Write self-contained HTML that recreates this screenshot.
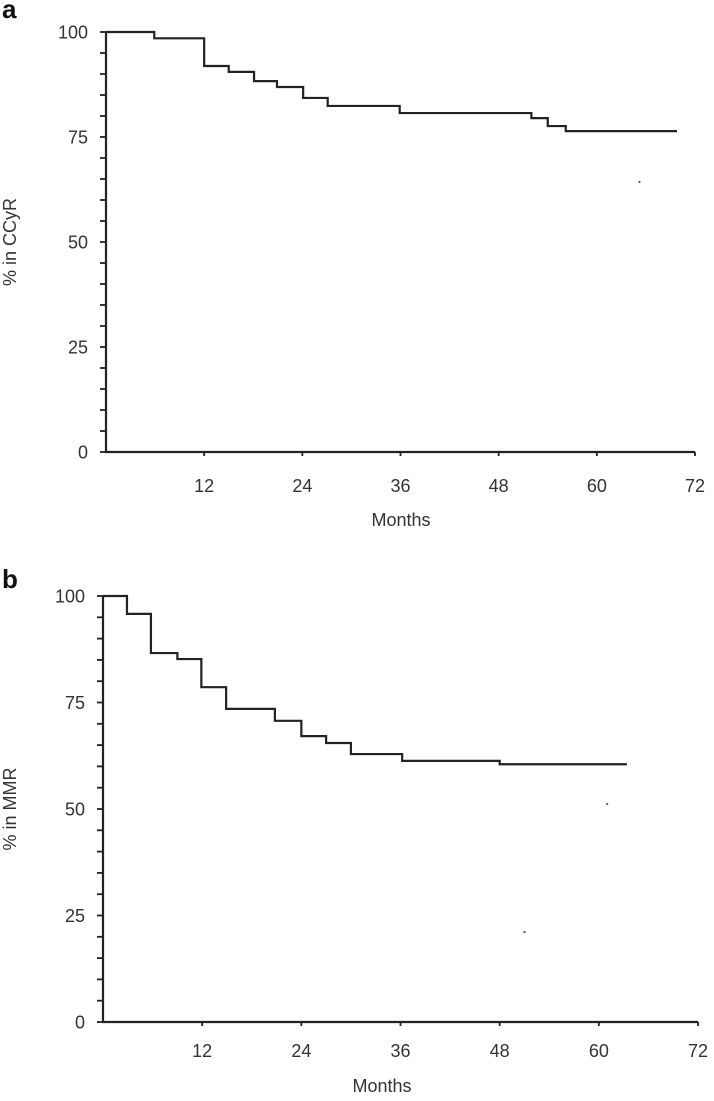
<!DOCTYPE html>
<html><head><meta charset="utf-8"><style>
html,body{margin:0;padding:0;background:#fff;}
svg{display:block;font-family:"Liberation Sans",sans-serif;}
</style></head><body>
<svg id="chart" width="714" height="1101" viewBox="0 0 714 1101" xmlns="http://www.w3.org/2000/svg"></svg>
<script>
// Panel a data (months, % in CCyR)
const aTimes = [0, 5.9, 12, 15, 18.1, 20.9, 24.1, 27.1, 35.9, 52, 54, 56.2];
const aValues = [100, 98.5, 91.9, 90.5, 88.3, 86.9, 84.3, 82.4, 80.7, 79.5, 77.6, 76.4];
const aEnd = 69.8;
const aDots = [[65.2, 64.3]];
// Panel b data (months, % in MMR)
const bTimes = [0, 2.9, 5.8, 9, 11.9, 14.9, 20.8, 24, 27, 30, 36.2, 48];
const bValues = [100, 95.8, 86.6, 85.2, 78.6, 73.5, 70.7, 67.1, 65.5, 62.9, 61.3, 60.5];
const bEnd = 63.4;
const bDots = [[61, 51.2], [51, 21.1]];
const xTicks = [12, 24, 36, 48, 60, 72];
const yTicks = [0, 25, 50, 75, 100];

const svg = document.getElementById('chart');
const NS = 'http://www.w3.org/2000/svg';
function mk(tag, attrs, parent) {
  const e = document.createElementNS(NS, tag);
  for (const k in attrs) e.setAttribute(k, attrs[k]);
  (parent || svg).appendChild(e);
  return e;
}

function panel(cfg) {
  const g = mk('g', {});
  
  
  const xs = m => cfg.x0 + (m / 72) * (cfg.x1 - cfg.x0);
  const ys = v => cfg.y0 - (v / 100) * (cfg.y0 - cfg.y1);
  const ax = mk('path', {d: `M${cfg.x0},${ys(100)} V${cfg.y0} H${cfg.x1}`, stroke: '#222', 'stroke-width': 2.2, fill: 'none'}, g);
  
  
  for (let v = 0; v <= 100; v += 5) {
    const t = mk('line', {x1: cfg.x0 - 6, x2: cfg.x0, y1: ys(v), y2: ys(v), stroke: '#222', 'stroke-width': 1.8}, g);
    
    
  }
  yTicks.forEach(v => {
    const t = mk('text', {x: cfg.x0 - 18, y: ys(v) + 6.5, 'text-anchor': 'end', 'font-size': 18, fill: '#333'}, g);
    t.textContent = v;
    
    
  });
  xTicks.forEach(m => {
    const t = mk('line', {x1: xs(m), x2: xs(m), y1: cfg.y0, y2: cfg.y0 + 4, stroke: '#222', 'stroke-width': 1.8}, g);
    
    
    const l = mk('text', {x: xs(m), y: cfg.y0 + cfg.xLabDy, 'text-anchor': 'middle', 'font-size': 18, fill: '#333'}, g);
    l.textContent = m;
    
    
  });
  let d = `M${xs(cfg.times[0])},${ys(cfg.values[0])}`;
  for (let i = 1; i < cfg.times.length; i++) {
    d += ` H${xs(cfg.times[i])} V${ys(cfg.values[i])}`;
  }
  d += ` H${xs(cfg.end)}`;
  const c = mk('path', {d: d, stroke: '#222', 'stroke-width': 2.2, fill: 'none'}, g);
  
  
  cfg.dots.forEach(p => {
    const dt = mk('circle', {cx: xs(p[0]), cy: ys(p[1]), r: 1.2, fill: '#666'}, g);
    
    
  });
  const xt = mk('text', {x: cfg.xTitleX, y: cfg.y0 + cfg.xTitleDy, 'text-anchor': 'middle', 'font-size': 18, fill: '#333'}, g);
  xt.textContent = 'Months';
  
  
  const cy = (cfg.y0 + ys(100)) / 2;
  const yt = mk('text', {x: 16, y: cy, 'text-anchor': 'middle', 'font-size': 18, fill: '#333', transform: `rotate(-90 16 ${cy})`}, g);
  yt.textContent = cfg.yTitle;
  
  
  const pl = mk('text', {x: 2, y: cfg.labelY, 'font-size': 26, 'font-weight': 'bold', fill: '#111'}, g);
  pl.textContent = cfg.label;
  
  
}

panel({name: 'panel-a', x0: 106, x1: 695, y0: 452, y1: 32, times: aTimes, values: aValues, end: aEnd, dots: aDots, yTitle: '% in CCyR', label: 'a', labelY: 18, xTitleX: 401, xLabDy: 40, xTitleDy: 74});
panel({name: 'panel-b', x0: 103, x1: 698, y0: 1022, y1: 596, times: bTimes, values: bValues, end: bEnd, dots: bDots, yTitle: '% in MMR', label: 'b', labelY: 588, xTitleX: 382, xLabDy: 35, xTitleDy: 70});
</script>
</body></html>
